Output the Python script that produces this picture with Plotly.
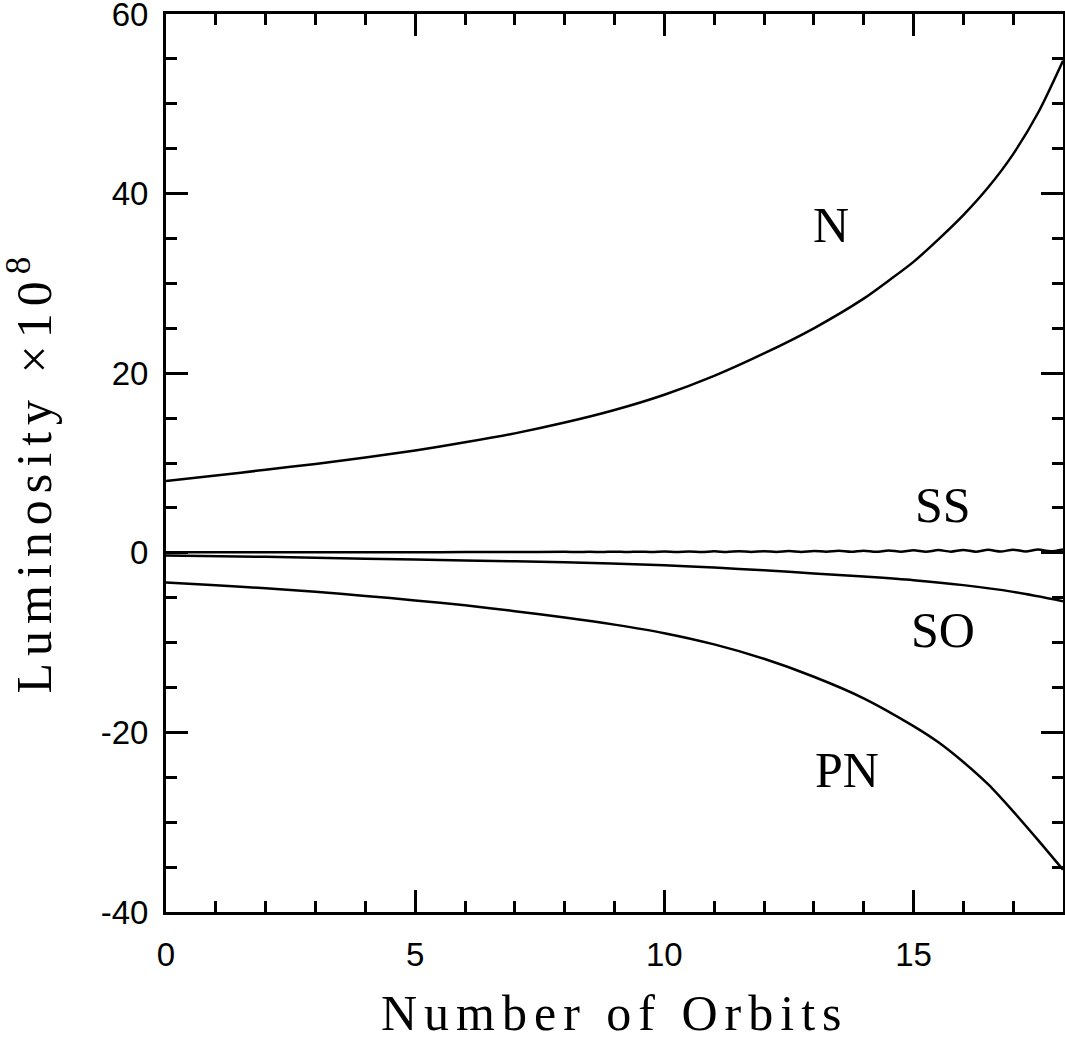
import plotly.graph_objects as go

# ---- data ----
n_x = [0, 1, 2, 3, 4, 5, 6, 7, 8, 9, 10, 11, 12, 13, 14, 14.5, 15, 15.5, 16, 16.5, 17, 17.5, 18]
n_y = [8.0, 8.6, 9.25, 9.9, 10.6, 11.4, 12.3, 13.3, 14.5, 15.9, 17.6, 19.7, 22.2, 25.0,
       28.3, 30.3, 32.4, 34.9, 37.6, 40.7, 44.4, 49.0, 54.8]

pn_x = [0, 1, 2, 3, 4, 5, 6, 7, 8, 9, 10, 11, 12, 13, 14, 15, 15.5, 16, 16.5, 17, 17.5, 18]
pn_y = [-3.3, -3.6, -3.95, -4.35, -4.8, -5.3, -5.85, -6.5, -7.2, -8.0, -8.95, -10.2, -11.8,
        -13.8, -16.2, -19.3, -21.1, -23.3, -25.8, -28.8, -32.0, -35.3]

so_x = [0, 2, 4, 6, 8, 10, 11, 12, 13, 14, 15, 16, 17, 18]
so_y = [-0.3, -0.45, -0.65, -0.85, -1.05, -1.4, -1.65, -1.95, -2.3, -2.65, -3.05, -3.6, -4.35, -5.4]

ss_x = [0, 1, 2, 3, 4, 5, 6, 7,
        8, 8.25, 8.5, 8.75, 9, 9.25, 9.5, 9.75, 10, 10.25, 10.5, 10.75,
        11, 11.25, 11.5, 11.75, 12, 12.25, 12.5, 12.75, 13, 13.25, 13.5, 13.75,
        14, 14.25, 14.5, 14.75, 15, 15.25, 15.5, 15.75, 16, 16.25, 16.5, 16.75,
        17, 17.25, 17.5, 17.75, 18]
ss_y = [0.05, 0.05, 0.06, 0.06, 0.07, 0.07, 0.08, 0.08,
        0.11, 0.08, 0.12, 0.08, 0.13, 0.08, 0.13, 0.09, 0.14, 0.09, 0.15, 0.09,
        0.16, 0.10, 0.17, 0.10, 0.18, 0.10, 0.19, 0.10, 0.21, 0.11, 0.22, 0.11,
        0.24, 0.11, 0.26, 0.12, 0.28, 0.12, 0.30, 0.13, 0.32, 0.13, 0.33, 0.14,
        0.35, 0.15, 0.36, 0.17, 0.38]

labels = ["N", "SS", "SO", "PN"]
label_x = [13.35, 15.6, 15.6, 13.67]
label_y = [36.5, 5.35, -8.6, -24.2]

x_ticks = [0, 5, 10, 15]
y_ticks = [-40, -20, 0, 20, 40, 60]

serif = "Liberation Serif"
sans = "Liberation Sans, Arial, sans-serif"
SP = "letter-spacing:7px"


def spaced(t):
    return '<span style="%s">%s</span>' % (SP, t)


fig = go.Figure()
line = dict(color="black", width=2.5, shape="spline", smoothing=0.8)
for xs, ys in [(n_x, n_y), (ss_x, ss_y), (so_x, so_y), (pn_x, pn_y)]:
    fig.add_trace(go.Scatter(x=xs, y=ys, mode="lines", line=line,
                             showlegend=False, hoverinfo="skip"))

for t, lx, ly in zip(labels, label_x, label_y):
    fig.add_annotation(x=lx, y=ly, text=t, showarrow=False,
                       font=dict(family=serif, size=50, color="black"),
                       xanchor="center", yanchor="middle")

fig.add_annotation(xref="paper", yref="paper", x=0.5, y=-0.112,
                   text=spaced("Number of Orbits"),
                   showarrow=False, font=dict(family=serif, size=50, color="black"),
                   xanchor="center", yanchor="middle")
fig.add_annotation(xref="paper", yref="paper", x=-0.151, y=0.49,
                   text=spaced("Luminosity ×10<sup>8</sup>"), textangle=-90,
                   showarrow=False, font=dict(family=serif, size=50, color="black"),
                   xanchor="center", yanchor="middle")

axis_common = dict(showgrid=False, zeroline=False, showline=True, linecolor="black",
                   linewidth=3, mirror="ticks", ticks="inside", tickwidth=2.5,
                   tickcolor="black", ticklen=22, ticklabeloverflow="allow",
                   automargin=False,
                   tickfont=dict(family=sans, size=33, color="black"))

fig.update_xaxes(range=[0, 18], tickmode="array", tickvals=x_ticks,
                 ticktext=[str(v) for v in x_ticks], ticklabelstandoff=11,
                 minor=dict(dtick=1, ticklen=11, tickwidth=2.5, tickcolor="black",
                            ticks="inside", showgrid=False),
                 **axis_common)
fig.update_yaxes(range=[-40, 60], tickmode="array", tickvals=y_ticks,
                 ticktext=[str(v) for v in y_ticks], ticklabelstandoff=8,
                 minor=dict(dtick=5, tick0=0, ticklen=11, tickwidth=2.5, tickcolor="black",
                            ticks="inside", showgrid=False),
                 **axis_common)

fig.update_layout(width=1065, height=1041,
                  margin=dict(l=166, r=2, t=14, b=129, autoexpand=False),
                  plot_bgcolor="white", paper_bgcolor="white")

fig.write_html("out.html", config={"displayModeBar": False},
               post_script="document.body.style.margin='0';document.body.style.overflow='hidden';")
